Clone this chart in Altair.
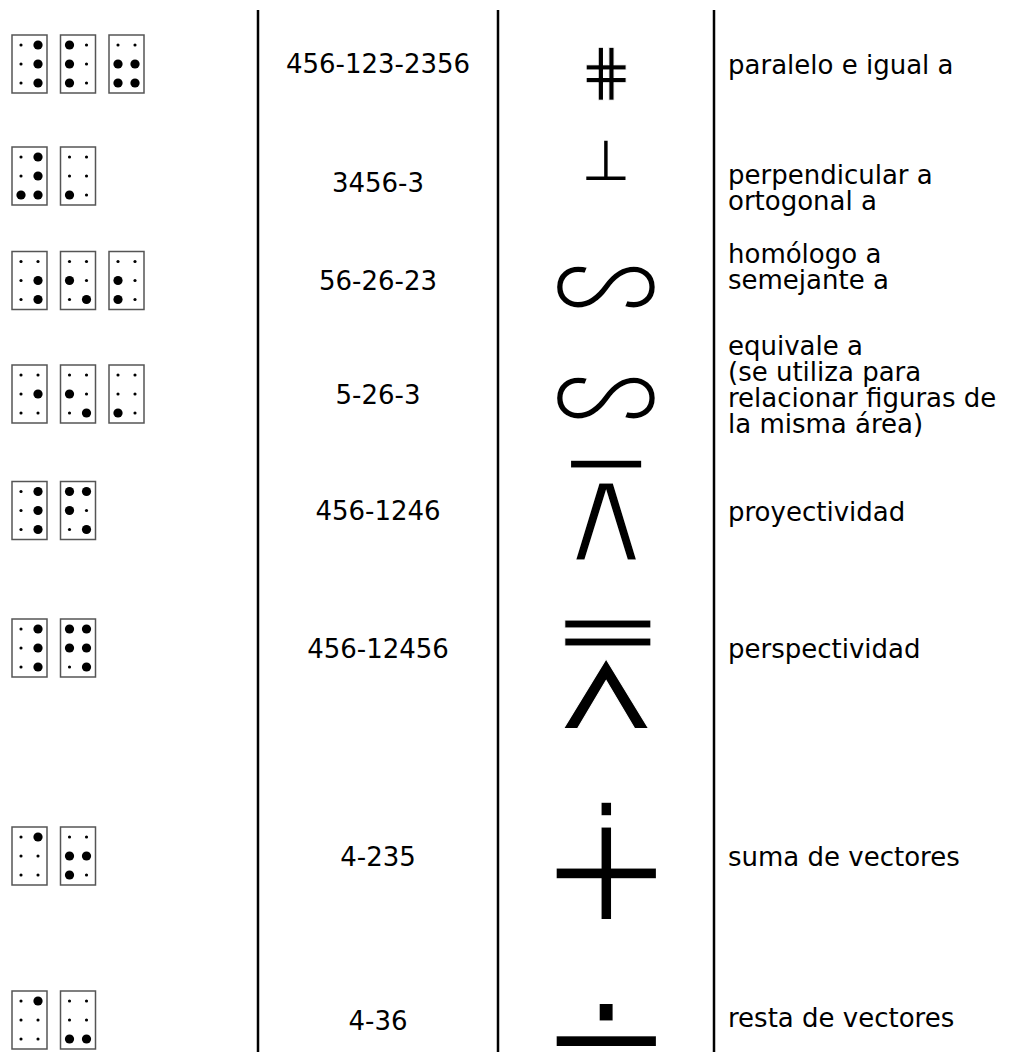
import altair as alt
import pandas as pd

# ---------------- data ----------------
codes = ["456-123-2356", "3456-3", "56-26-23", "5-26-3",
         "456-1246", "456-12456", "4-235", "4-36"]
symbols = ["⋕", "⊥", "∽", "∽", "⊼", "⩞", "∔", "∸"]
descriptions = [
    ["paralelo e igual a"],
    ["perpendicular a", "ortogonal a"],
    ["homólogo a", "semejante a"],
    ["equivale a", "(se utiliza para", "relacionar figuras de", "la misma área)"],
    ["proyectividad"],
    ["perspectividad"],
    ["suma de vectores"],
    ["resta de vectores"],
]

# ---------------- layout (page pixels) ----------------
W, H = 993, 1044
row_cell_center = [64, 176, 280.5, 394, 510.5, 648, 856, 1020]
row_code_center = [65, 184, 282, 396, 512, 650, 858, 1022]
row_symbol_center = [75, 163, 294.5, 406, 520, 681, 871, 1043]
row_desc_baseline = [74, 184, 263, 355, 521, 658, 866, 1027]
symbol_font_size = [64, 56, 107, 107, 140, 155, 165, 165]
symbol_thinning = [1, 0, 2, 2, 5, 1, 4, 4]   # white outline that slims the glyph strokes
symbol_font = ["DejaVu Sans", "DejaVu Sans", "Noto Sans CJK JP", "Noto Sans CJK JP",
               "DejaVu Sans", "DejaVu Sans", "DejaVu Sans", "DejaVu Sans"]
desc_line_height = 26
cell_left0, cell_pitch, cell_w, cell_h = 12, 48.5, 35, 58
dot_dx, dot_dy = 8.5, 19
col_lines_x = [258, 498, 714]
code_x, symbol_x, desc_x = 378, 606, 728

# ---------------- tables ----------------
cells, dots = [], []
for r, code in enumerate(codes):
    cy = row_cell_center[r]
    for k, cell in enumerate(code.split("-")):
        left = cell_left0 + k * cell_pitch
        cells.append({"x": left, "x2": left + cell_w, "y": cy - cell_h / 2, "y2": cy + cell_h / 2})
        cx = left + cell_w / 2
        for d in range(1, 7):
            dots.append({
                "x": cx + (-dot_dx if d <= 3 else dot_dx),
                "y": cy + (-dot_dy, 0, dot_dy)[(d - 1) % 3],
                "state": "on" if str(d) in cell else "off",
            })
cells = pd.DataFrame(cells)
dots = pd.DataFrame(dots)

code_df = pd.DataFrame({"x": code_x, "y": row_code_center, "t": codes})
sym_df = pd.DataFrame({"x": symbol_x, "y": row_symbol_center, "t": symbols,
                       "fs": symbol_font_size, "sw": symbol_thinning, "font": symbol_font})
desc_rows = []
for r, lines in enumerate(descriptions):
    for i, line in enumerate(lines):
        desc_rows.append({"x": desc_x, "y": row_desc_baseline[r] + i * desc_line_height, "t": line})
desc_df = pd.DataFrame(desc_rows)
lines_df = pd.DataFrame({"x": col_lines_x, "y": 10, "y2": 1060})

xs = alt.Scale(domain=[8, 8 + W], range=[0, W], nice=False, zero=False)
ys = alt.Scale(domain=[8, 8 + H], range=[0, H], nice=False, zero=False)

X = lambda f="x": alt.X(f"{f}:Q", scale=xs, axis=None)
Y = lambda f="y": alt.Y(f"{f}:Q", scale=ys, axis=None)

rules = alt.Chart(lines_df).mark_rule(color="black", strokeWidth=2.5).encode(
    x=X(), y=Y(), y2="y2:Q")

rects = alt.Chart(cells).mark_rect(fill="white", stroke="#555555", strokeWidth=1.5).encode(
    x=X(), x2="x2:Q", y=Y(), y2="y2:Q")

circ = alt.Chart(dots).mark_circle(color="black", opacity=1).encode(
    x=X(), y=Y(),
    size=alt.Size("state:N", scale=alt.Scale(domain=["on", "off"], range=[85, 10]), legend=None))

code_txt = alt.Chart(code_df).mark_text(
    font="DejaVu Sans", fontSize=26, align="center", baseline="middle", color="black"
).encode(x=X(), y=Y(), text="t:N")

sym_layers = []
for fnt in sorted(set(symbol_font)):
    sub = sym_df[sym_df["font"] == fnt]
    sym_layers.append(alt.Chart(sub).mark_text(
        font=fnt, align="center", baseline="middle", fill="black", stroke="white"
    ).encode(x=X(), y=Y(), text="t:N",
             size=alt.Size("fs:Q", scale=None, legend=None),
             strokeWidth=alt.StrokeWidth("sw:Q", scale=None, legend=None)))

desc_txt = alt.Chart(desc_df).mark_text(
    font="DejaVu Sans", fontSize=26, align="left", baseline="alphabetic", color="black"
).encode(x=X(), y=Y(), text="t:N")

chart = alt.layer(rules, rects, circ, code_txt, *sym_layers, desc_txt).properties(
    width=W, height=H, padding=0, autosize=alt.AutoSizeParams(type="none")
).configure(background="white").configure_view(strokeWidth=0, stroke="transparent")

chart.save("out.html", embed_options={"renderer": "svg", "actions": False})
